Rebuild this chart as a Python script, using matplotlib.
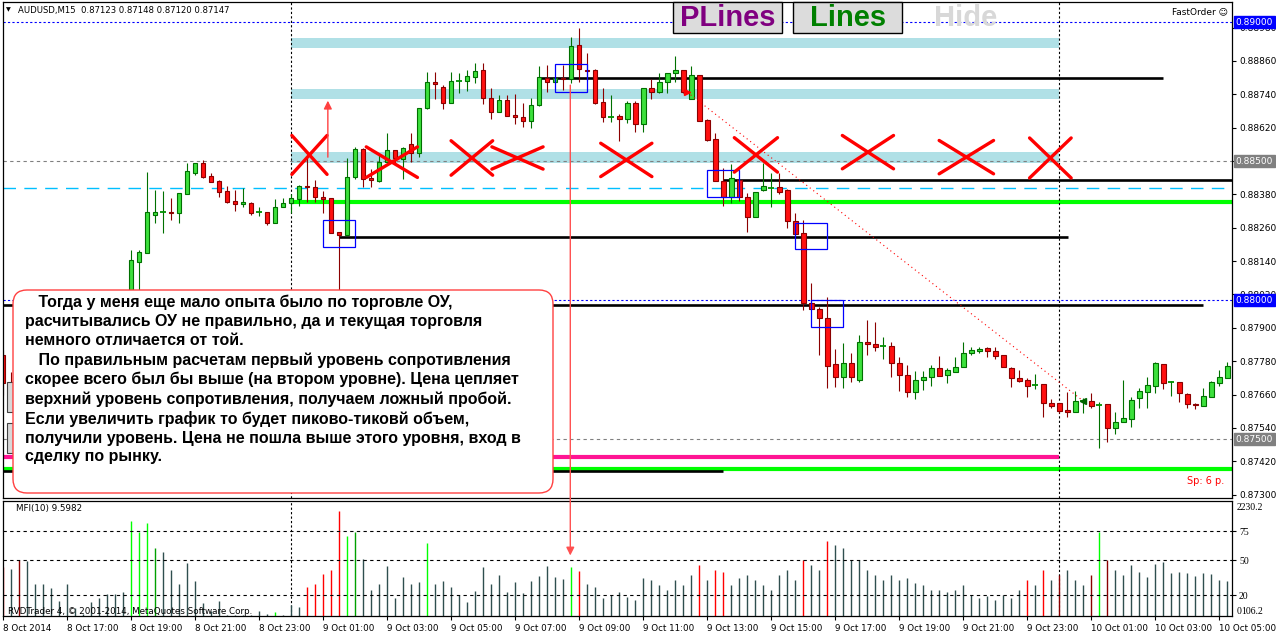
import numpy as np
import matplotlib.pyplot as plt
from matplotlib.patches import Rectangle, FancyBboxPatch, ConnectionPatch
from matplotlib.transforms import IdentityTransform, blended_transform_factory

W, H = 1276, 637

# AUDUSD M15 bars from 8 Oct 15:00, quotes in points (1e-5)
opens = [87802, 87701, 87683, 87716, 87734, 87719, 87745, 87762, 87752, 87791,
         87780, 87813, 87842, 87870, 87910, 87935, 87978, 88137, 88169, 88306,
         88316, 88316, 88313, 88381, 88457, 88493, 88446, 88428, 88392, 88356,
         88345, 88349, 88316, 88316, 88277, 88334, 88349, 88363, 88410, 88406,
         88370, 88367, 88245, 88234, 88442, 88543, 88439, 88428, 88496, 88539,
         88507, 88561, 88529, 88691, 88784, 88766, 88709, 88788, 88788, 88802,
         88827, 88727, 88676, 88719, 88665, 88658, 88644, 88701, 88798, 88784,
         88798, 88795, 88917, 88827, 88827, 88712, 88658, 88662, 88651, 88709,
         88633, 88763, 88748, 88784, 88816, 88827, 88723, 88809, 88647, 88579,
         88428, 88370, 88432, 88370, 88298, 88396, 88403, 88406, 88396, 88284,
         88241, 87989, 87968, 87935, 87770, 87723, 87773, 87712, 87849, 87842,
         87834, 87834, 87773, 87730, 87669, 87712, 87723, 87755, 87730, 87741,
         87759, 87809, 87816, 87827, 87816, 87802, 87755, 87719, 87712, 87694,
         87698, 87629, 87629, 87604, 87597, 87637, 87637, 87622, 87626, 87539,
         87561, 87572, 87647, 87669, 87691, 87770, 87705, 87705, 87662, 87626,
         87619, 87651, 87701, 87719]
highs = [87820, 87741, 87726, 87748, 87762, 87755, 87777, 87795, 87802, 87820,
         87824, 87856, 87892, 87921, 87957, 87993, 88180, 88180, 88460, 88396,
         88392, 88367, 88385, 88493, 88493, 88504, 88457, 88432, 88410, 88396,
         88403, 88352, 88334, 88316, 88363, 88367, 88381, 88414, 88511, 88432,
         88392, 88367, 88245, 88511, 88550, 88547, 88471, 88525, 88601, 88539,
         88550, 88601, 88691, 88820, 88820, 88773, 88820, 88816, 88827, 88852,
         88852, 88763, 88737, 88737, 88741, 88709, 88727, 88842, 88845, 88798,
         88845, 88946, 88978, 88888, 88831, 88763, 88737, 88669, 88716, 88716,
         88763, 88795, 88816, 88816, 88878, 88827, 88842, 88809, 88651, 88601,
         88475, 88489, 88432, 88385, 88388, 88493, 88457, 88457, 88399, 88313,
         88288, 88061, 87975, 88011, 87824, 87845, 87809, 87874, 87928, 87921,
         87867, 87849, 87795, 87766, 87745, 87745, 87766, 87798, 87755, 87795,
         87849, 87831, 87831, 87831, 87831, 87802, 87759, 87748, 87719, 87734,
         87698, 87644, 87629, 87669, 87673, 87647, 87665, 87633, 87626, 87597,
         87712, 87651, 87683, 87723, 87777, 87770, 87708, 87705, 87665, 87629,
         87683, 87708, 87748, 87777]
lows = [87658, 87669, 87655, 87694, 87705, 87698, 87723, 87737, 87734, 87766,
        87762, 87791, 87820, 87852, 87892, 87921, 87964, 88036, 88169, 88277,
        88241, 88288, 88277, 88381, 88450, 88439, 88424, 88370, 88349, 88320,
        88334, 88306, 88302, 88270, 88277, 88334, 88313, 88338, 88352, 88352,
        88313, 88241, 88000, 88230, 88435, 88406, 88406, 88424, 88496, 88493,
        88435, 88496, 88514, 88687, 88723, 88687, 88709, 88745, 88752, 88780,
        88705, 88651, 88676, 88662, 88633, 88622, 88619, 88698, 88748, 88780,
        88755, 88780, 88784, 88791, 88705, 88640, 88640, 88572, 88637, 88604,
        88604, 88723, 88745, 88745, 88784, 88745, 88723, 88644, 88572, 88428,
        88338, 88349, 88356, 88245, 88298, 88392, 88334, 88381, 88259, 88234,
        87964, 87968, 87802, 87683, 87687, 87683, 87705, 87705, 87802, 87816,
        87788, 87723, 87673, 87651, 87644, 87676, 87691, 87726, 87701, 87741,
        87759, 87802, 87809, 87795, 87788, 87759, 87687, 87705, 87651, 87680,
        87579, 87611, 87593, 87579, 87597, 87593, 87611, 87467, 87489, 87518,
        87561, 87543, 87611, 87611, 87665, 87680, 87655, 87633, 87611, 87608,
        87619, 87651, 87691, 87719]
closes = [87701, 87683, 87716, 87734, 87719, 87745, 87762, 87752, 87791, 87780,
          87813, 87842, 87870, 87910, 87935, 87978, 88144, 88173, 88316, 88316,
          88316, 88313, 88385, 88464, 88493, 88442, 88424, 88388, 88352, 88345,
          88352, 88313, 88316, 88277, 88334, 88349, 88367, 88410, 88406, 88370,
          88363, 88241, 88234, 88442, 88543, 88435, 88432, 88496, 88539, 88511,
          88547, 88529, 88691, 88784, 88777, 88709, 88788, 88788, 88806, 88824,
          88727, 88676, 88719, 88662, 88658, 88644, 88701, 88802, 88784, 88798,
          88795, 88914, 88831, 88824, 88709, 88658, 88658, 88651, 88709, 88633,
          88763, 88748, 88784, 88816, 88827, 88748, 88809, 88644, 88575, 88428,
          88370, 88439, 88370, 88298, 88388, 88410, 88403, 88388, 88284, 88237,
          87989, 87968, 87935, 87762, 87723, 87773, 87723, 87849, 87842, 87831,
          87834, 87773, 87730, 87669, 87712, 87723, 87755, 87726, 87748, 87759,
          87809, 87820, 87824, 87816, 87798, 87759, 87719, 87708, 87691, 87694,
          87629, 87619, 87601, 87597, 87637, 87637, 87619, 87622, 87539, 87561,
          87575, 87640, 87673, 87694, 87773, 87701, 87705, 87665, 87626, 87622,
          87655, 87705, 87723, 87762]

# MFI(10) histogram, values on the sub-window scale
mfi = [43.7, 42.4, 50.1, 49.2, 29.9, 29.5, 26.0, 14.9, 29.5, 8.9,
       3.7, 14.0, 17.4, 20.9, 20.9, 22.2, 83.6, 74.2, 81.9, 60.8,
       57.4, 41.5, 29.9, 47.9, 32.1, 13.1, 6.6, 14.9, 3.0, 2.8,
       2.8, 2.5, 6.6, 3.7, 5.4, 3.0, 11.4, 10.1, 26.9, 29.5,
       38.3, 41.5, 92.6, 70.7, 74.2, 51.4, 24.3, 29.5, 44.9, 17.4,
       35.5, 29.5, 31.2, 64.7, 29.5, 32.1, 26.9, 20.4, 14.0, 23.5,
       43.7, 29.5, 37.2, 22.6, 31.2, 21.7, 32.1, 36.4, 44.9, 35.5,
       34.1, 43.7, 40.6, 29.9, 26.9, 17.4, 20.0, 22.6, 18.3, 15.7,
       34.6, 32.9, 28.6, 24.3, 32.9, 28.6, 37.2, 45.8, 32.9, 41.5,
       39.8, 28.6, 34.6, 37.2, 32.9, 28.6, 24.3, 37.2, 41.5, 32.9,
       50.1, 45.8, 41.5, 66.4, 63.0, 60.4, 50.1, 50.1, 41.5, 37.2,
       32.9, 37.2, 32.9, 34.6, 30.3, 28.6, 24.3, 24.3, 22.6, 24.3,
       28.6, 20.0, 17.4, 19.2, 15.7, 20.0, 17.4, 24.3, 32.9, 28.6,
       41.5, 32.9, 37.2, 41.5, 32.9, 28.6, 37.2, 74.2, 50.1, 41.5,
       37.2, 45.8, 39.8, 35.5, 46.6, 48.4, 38.9, 39.8, 38.9, 36.4,
       38.9, 38.1, 32.9, 32.1]
mfi_codes = ("rdmddddddd" "ddddddgggG" "dddddddddd" "ddddgdddrr" "rrrgGddddd"
             "dddgdddddd" "dddddddddd" "dgrddddddd" "dddddddrdr" "rddddddddd"
             "rddrdddddd" "dddddddddd" "ddddddddrd" "rdmdddmgmd" "dddddddddd" "dddd")
mfi_palette = {"d": "#2F4F4F", "r": "#FF0000", "m": "#8B0000", "g": "#00FF00", "G": "#00A000"}

time_labels = ["8 Oct 2014", "8 Oct 17:00", "8 Oct 19:00", "8 Oct 21:00", "8 Oct 23:00",
               "9 Oct 01:00", "9 Oct 03:00", "9 Oct 05:00", "9 Oct 07:00", "9 Oct 09:00",
               "9 Oct 11:00", "9 Oct 13:00", "9 Oct 15:00", "9 Oct 17:00", "9 Oct 19:00",
               "9 Oct 21:00", "9 Oct 23:00", "10 Oct 01:00", "10 Oct 03:00", "10 Oct 05:00"]
price_ticks = [0.88980, 0.88860, 0.88740, 0.88620, 0.88500, 0.88380, 0.88260, 0.88140,
               0.88020, 0.87900, 0.87780, 0.87660, 0.87540, 0.87420, 0.87300]
# prices marked with a coloured label on the scale (these hide the tick text under them)
marked_prices = [(0.89000, "#0000FF"), (0.88000, "#0000FF"), (0.88500, "#808080"), (0.87500, "#808080")]

# chart objects (bar index, price)
zones = [(0.88906, 0.88942), (0.88723, 0.88759), (0.88493, 0.88532)]
black_levels = [(67, 145, 0.88798), (90, 154, 0.88432), (42, 133.1, 0.88227),
                (0, 150, 0.87982), (0, 90, 0.87385)]
boxes = [(40, 0.88191, 0.88288), (69, 0.88748, 0.88849), (88, 0.88370, 0.88467),
         (99, 0.88183, 0.88277), (101, 0.87903, 0.88000)]
crosses = [(38.3, 0.88522, 2.2, 0.00070), (48.6, 0.88496, 3.2, 0.00055),
           (58.6, 0.88511, 2.6, 0.00062), (64.3, 0.88511, 3.2, 0.00040),
           (77.9, 0.88504, 3.2, 0.00060), (94.1, 0.88522, 2.7, 0.00062),
           (108.1, 0.88532, 3.2, 0.00060), (120.4, 0.88514, 3.4, 0.00060),
           (130.9, 0.88511, 2.6, 0.00072)]
text_lines = ["   Тогда у меня еще мало опыта было по торговле ОУ,",
              "расчитывались ОУ не правильно, да и текущая торговля",
              "немного отличается от той.",
              "   По правильным расчетам первый уровень сопротивления",
              "скорее всего был бы выше (на втором уровне). Цена цепляет",
              "верхний уровень сопротивления, получаем ложный пробой.",
              "Если увеличить график то будет пиково-тиковй объем,",
              "получили уровень. Цена не пошла выше этого уровня, вход в",
              "сделку по рынку."]

o = np.array(opens) / 1e5
h = np.array(highs) / 1e5
l = np.array(lows) / 1e5
c = np.array(closes) / 1e5
idx = np.arange(len(o))


def fx(px):
    return px / W


def fy(py):
    return 1 - py / H


fig = plt.figure(figsize=(W / 100, H / 100), dpi=100)
ax = fig.add_axes([fx(3), fy(498), fx(1232) - fx(3), fy(2) - fy(498)])
axm = fig.add_axes([fx(3), fy(616), fx(1232) - fx(3), fy(501) - fy(616)])

for a in (ax, axm):
    a.set_xlim(0, 153.6)
    for s in a.spines.values():
        s.set_linewidth(0.9)
ax.set_ylim(0.87288, 0.89072)
axm.set_ylim(2.0, 100.8)

# price window
for lo, hi in zones:
    ax.add_patch(Rectangle((36, lo), 96, hi - lo, color="#B0E0E6", lw=0, zorder=0.5))
ax.axhline(0.89000, color="#0000FF", ls=(0, (2, 2)), lw=0.8)
ax.axhline(0.88000, color="#0000FF", ls=(0, (2, 2)), lw=0.8)
ax.axhline(0.88500, color="#808080", ls=(0, (3, 3)), lw=0.8)
ax.axhline(0.87500, color="#808080", ls=(0, (3, 3)), lw=0.8)
ax.axhline(0.88403, color="#00BFFF", ls=(0, (9, 6)), lw=1.0)
ax.hlines(0.88352, 36, 154, color="#00FF00", lw=3.0, zorder=1)
ax.hlines(0.87392, 0, 154, color="#00FF00", lw=3.0, zorder=1)
ax.hlines(0.87435, 0, 132, color="#FF1493", lw=3.0, zorder=1)
for x0, x1, p in black_levels:
    ax.hlines(p, x0, x1, color="black", lw=1.9, zorder=1)
for a in (ax, axm):
    for sep in (36, 132):
        a.axvline(sep, color="black", ls=(0, (2, 2)), lw=0.8)

# candles
up = c > o
dn = c < o
eq = c == o
ax.vlines(idx[~dn], l[~dn], h[~dn], color="#007000", lw=0.8, zorder=2)
ax.vlines(idx[dn], l[dn], h[dn], color="#8B0000", lw=0.8, zorder=2)
ax.bar(idx[up], c[up] - o[up], bottom=o[up], width=0.6, color="#3CE03C",
       edgecolor="#007000", lw=0.8, zorder=2.1)
ax.bar(idx[dn], o[dn] - c[dn], bottom=c[dn], width=0.6, color="#FF1010",
       edgecolor="#8B0000", lw=0.8, zorder=2.1)
ax.hlines(o[eq], idx[eq] - 0.4, idx[eq] + 0.4, color="#009000", lw=1.3, zorder=2.1)

for x0, lo, hi in boxes:
    ax.add_patch(Rectangle((x0, lo), 4, hi - lo, fill=False, edgecolor="#0000FF",
                           lw=0.9, zorder=3))
for cx, cy, dx, dy in crosses:
    ax.plot([cx - dx, cx + dx], [cy - dy, cy + dy], color="#FF0000", lw=2.4,
            solid_capstyle="round", zorder=3)
    ax.plot([cx - dx, cx + dx], [cy + dy, cy - dy], color="#FF0000", lw=2.4,
            solid_capstyle="round", zorder=3)

# closed trade
ax.plot([85.5, 135], [0.88748, 0.87637], color="#FF0000", lw=0.8, ls=(0, (1, 3)), zorder=3)
ax.plot(85.5, 0.88748, marker=">", color="#FF0000", ms=4, zorder=3)
ax.plot(135, 0.87637, marker="<", color="#006400", ms=4, zorder=3)

ax.annotate("", xy=(40.6, 0.88727), xytext=(40.6, 0.88504),
            arrowprops=dict(arrowstyle="-|>", color="#FF4040", lw=1.0, mutation_scale=12))
con = ConnectionPatch(xyA=(70.9, 0.88773), coordsA=ax.transData,
                      xyB=(70.9, 54), coordsB=axm.transData,
                      arrowstyle="-|>", color="#FF5050", lw=1.0, mutation_scale=12, zorder=6)
fig.add_artist(con)

ax.set_xticks([])
ax.yaxis.tick_right()
ax.set_yticks(price_ticks)
hidden = {round(p, 5) for p, _ in marked_prices}
ax.set_yticklabels(["" if round(p, 5) in hidden else f"{p:.5f}" for p in price_ticks])
ax.tick_params(axis="y", length=3, width=0.8, pad=2, labelsize=6.5)

bt = blended_transform_factory(ax.transAxes, ax.transData)
for p, col in marked_prices:
    ax.text(1.003, p, f"{p:.5f}", transform=bt, va="center", ha="left", fontsize=6.5,
            color="white", clip_on=False, zorder=10,
            bbox=dict(boxstyle="square,pad=0.2", facecolor=col, edgecolor=col))

# MFI window
axm.vlines(idx, 0, mfi, colors=[mfi_palette[k] for k in mfi_codes], lw=1.0)
for lev in (75, 50, 20):
    axm.axhline(lev, color="black", ls=(0, (3, 3)), lw=0.8)
axm.yaxis.tick_right()
axm.set_yticks([75, 50, 20])
axm.set_yticklabels(["75", "50", "20"], family="Liberation Serif")
axm.tick_params(axis="y", length=3, width=0.8, pad=2, labelsize=7)
axm.set_xticks(idx[::8])
axm.set_xticklabels(time_labels, ha="left")
axm.tick_params(axis="x", length=3, width=0.8, pad=3, labelsize=6.3)

fig.text(fx(1237), fy(507), "2230.2", fontsize=7, family="Liberation Serif", va="center")
fig.text(fx(1237), fy(612), "0", fontsize=7, family="Liberation Serif", va="center")
fig.text(fx(1241), fy(612), "106.2", fontsize=7, family="Liberation Serif", va="center")
fig.text(fx(16), fy(509), "MFI(10) 9.5982", fontsize=6.3, va="center")
fig.text(fx(8), fy(611), "RVDTrader 4, © 2001-2014, MetaQuotes Software Corp.",
         fontsize=6.3, va="center", zorder=6)

# header and buttons
fig.text(fx(6), fy(10), "▼", fontsize=4.5, va="center")
fig.text(fx(18), fy(10), "AUDUSD,M15  0.87123 0.87148 0.87120 0.87147", fontsize=6.1, va="center")
fig.text(fx(1172), fy(12), "FastOrder ☺", fontsize=6.5, va="center")
fig.text(fx(1187), fy(481), "Sp: 6 p.", fontsize=7, color="#FF0000", va="center")

for x0, label, col in [(673, "PLines", "#800080"), (793, "Lines", "#008000")]:
    fig.add_artist(Rectangle((x0, H - 33), 109, 31, transform=IdentityTransform(),
                             facecolor="#DCDCDC", edgecolor="black", lw=1.0, zorder=5))
    fig.text(fx(x0 + 55), fy(18), label, fontsize=21, weight="bold", color=col,
             family="Liberation Sans", ha="center", va="center", zorder=6)
fig.text(fx(966), fy(18), "Hide", fontsize=21, weight="bold", color="#D8D8D8",
         family="Liberation Sans", ha="center", va="center", zorder=6)

# small panels at the left edge
for y0 in (382, 423):
    fig.add_artist(Rectangle((7, H - y0 - 30), 6, 30, transform=IdentityTransform(),
                             facecolor="#D8D8D8", edgecolor="#404040", lw=0.8, zorder=5))

# comment box
fig.add_artist(FancyBboxPatch((13, H - 493), 540, 203, boxstyle="round,pad=0,rounding_size=14",
                              transform=IdentityTransform(), facecolor="white",
                              edgecolor="#FF4040", lw=1.0, zorder=5))
fig.text(fx(25), fy(295), "\n".join(text_lines), fontsize=11.5, weight="bold",
         family="Liberation Sans", va="top", ha="left", linespacing=1.32, zorder=6)

fig.savefig("out.png", dpi=100)
